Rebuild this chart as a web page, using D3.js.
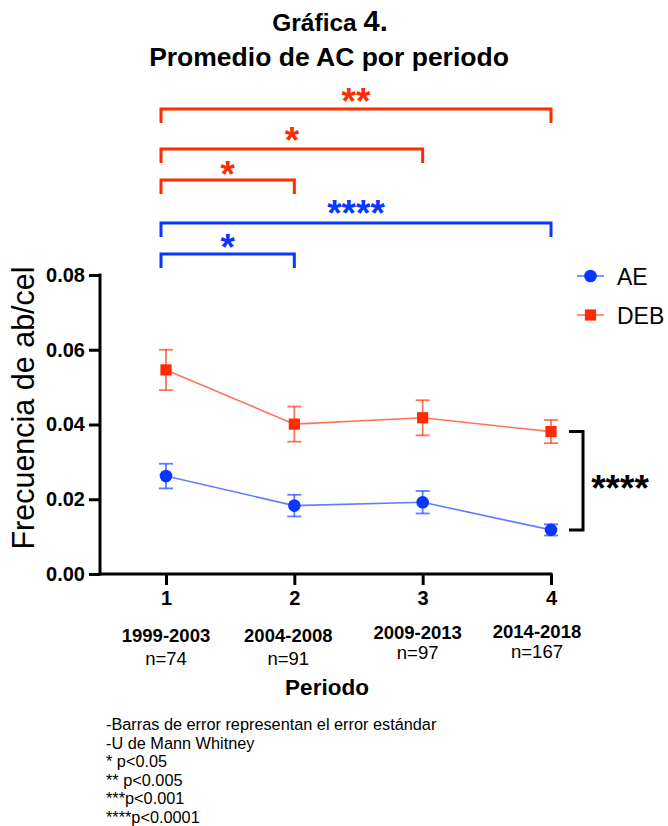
<!DOCTYPE html>
<html>
<head>
<meta charset="utf-8">
<script src="https://cdn.jsdelivr.net/npm/d3@7"></script>
<style>
  html, body { margin: 0; padding: 0; background: #fff; }
  svg text { font-family: "Liberation Sans", Arial, Helvetica, sans-serif; }
</style>
</head>
<body>
<svg id="chart" width="668" height="826"></svg>
<script>
// Periods on the x axis
const periods = [1, 2, 3, 4];
const periodRanges = ["1999-2003", "2004-2008", "2009-2013", "2014-2018"];
const periodN = ["n=74", "n=91", "n=97", "n=167"];

// Mean frequency of aberrations per cell, with standard error
const aeMean = [0.0262, 0.0183, 0.0192, 0.0118];
const aeSem  = [0.0033, 0.0029, 0.0030, 0.0015];
const debMean = [0.0546, 0.0401, 0.0418, 0.0381];
const debSem  = [0.0054, 0.0047, 0.0047, 0.0031];

// Axis ticks
const yTicks = [0.00, 0.02, 0.04, 0.06, 0.08];

// Pairwise comparisons between periods (Mann-Whitney U)
const comparisons = [
  { series: "DEB", from: 1, to: 4, label: "**" },
  { series: "DEB", from: 1, to: 3, label: "*" },
  { series: "DEB", from: 1, to: 2, label: "*" },
  { series: "AE",  from: 1, to: 4, label: "****" },
  { series: "AE",  from: 1, to: 2, label: "*" }
];
// AE vs DEB overall comparison
const groupComparison = { label: "****" };

const notes = [
  "-Barras de error representan el error estándar",
  "-U de Mann Whitney",
  "* p<0.05",
  "** p<0.005",
  "***p<0.001",
  "****p<0.0001"
];

const BLUE = "#0a37ff";
const RED = "#ff2a00";
const colorOf = { AE: BLUE, DEB: RED };

const svg = d3.select("#chart");

const x = d3.scaleLinear().domain([1, 4]).range([166, 551]);
const y = d3.scaleLinear().domain([0, 0.08]).range([574, 275]);
const axisX0 = 100;

// Title
const title = svg.append("text")
  .attr("x", 330).attr("y", 31)
  .attr("text-anchor", "middle")
  .attr("font-weight", "bold")
  .attr("fill", "#000");
title.append("tspan").attr("font-size", 24.5).text("Gráfica ");
title.append("tspan").attr("font-size", 29).text("4.");
svg.append("text")
  .attr("x", 329).attr("y", 66)
  .attr("text-anchor", "middle")
  .attr("font-weight", "bold")
  .attr("font-size", 26.5)
  .text("Promedio de AC por periodo");

// Y axis
const yAxis = d3.axisLeft(y)
  .tickValues(yTicks)
  .tickFormat(d3.format(".2f"))
  .tickSize(11)
  .tickPadding(4);
const gy = svg.append("g").attr("transform", `translate(${axisX0},0)`).call(yAxis);
gy.select(".domain").attr("stroke", "#000").attr("stroke-width", 3)
  .attr("d", `M0,${y(0.08) - 1.5}V${y(0) + 1.5}`);
gy.selectAll(".tick line").attr("stroke", "#000").attr("stroke-width", 3);
gy.selectAll(".tick text")
  .attr("font-size", 20).attr("font-weight", "bold").attr("fill", "#000")
  .attr("font-family", "'Liberation Sans', Arial, sans-serif");

// X axis line and ticks
const xAxis = d3.axisBottom(x).tickValues(periods).tickFormat(d3.format("d")).tickSize(11).tickPadding(6);
const gx = svg.append("g").attr("transform", `translate(0,${y(0)})`).call(xAxis);
gx.select(".domain").attr("stroke", "#000").attr("stroke-width", 3)
  .attr("d", `M${axisX0 - 1.5},0H${x(4) + 1.5}`);
gx.selectAll(".tick line").attr("stroke", "#000").attr("stroke-width", 3);
gx.selectAll(".tick text")
  .attr("font-size", 20).attr("font-weight", "bold").attr("fill", "#000")
  .attr("font-family", "'Liberation Sans', Arial, sans-serif");

// Period labels under the ticks
const rangeNudge = [0, -6, -5, -14];
const rangeRise = [0, 0, -3, -4];
const nRise = [0, 0, -6, -7];
svg.append("g").selectAll("text.range").data(periods).join("text")
  .attr("class", "range")
  .attr("x", (d, i) => x(d) + rangeNudge[i])
  .attr("y", (d, i) => 642 + rangeRise[i])
  .attr("text-anchor", "middle")
  .attr("font-size", 18.5).attr("font-weight", "bold")
  .text((d, i) => periodRanges[i]);
svg.append("g").selectAll("text.n").data(periods).join("text")
  .attr("class", "n")
  .attr("x", (d, i) => x(d) + rangeNudge[i])
  .attr("y", (d, i) => 665 + nRise[i])
  .attr("text-anchor", "middle")
  .attr("font-size", 18.5)
  .text((d, i) => periodN[i]);

svg.append("text")
  .attr("x", 327).attr("y", 695)
  .attr("text-anchor", "middle")
  .attr("font-size", 22.5).attr("font-weight", "bold")
  .text("Periodo");

// Y axis title
svg.append("text")
  .attr("transform", "translate(34,408) rotate(-90)")
  .attr("text-anchor", "middle")
  .attr("font-size", 30.5)
  .text("Frecuencia de ab/cel");

// Series
const series = [
  { name: "AE", mean: aeMean, sem: aeSem, shape: "circle" },
  { name: "DEB", mean: debMean, sem: debSem, shape: "square" }
];

const line = d3.line().x(d => x(d.p)).y(d => y(d.v));

series.forEach(s => {
  const c = colorOf[s.name];
  const pts = periods.map((p, i) => ({ p, v: s.mean[i], e: s.sem[i] }));
  const g = svg.append("g");
  g.append("path").datum(pts)
    .attr("d", line)
    .attr("fill", "none").attr("stroke", c).attr("stroke-opacity", 0.65).attr("stroke-width", 1.6);
  // error bars
  const eb = g.selectAll("g.eb").data(pts).join("g").attr("class", "eb")
    .attr("stroke", c).attr("stroke-opacity", 0.65).attr("stroke-width", 1.8);
  eb.append("line")
    .attr("x1", d => x(d.p)).attr("x2", d => x(d.p))
    .attr("y1", d => y(d.v + d.e)).attr("y2", d => y(d.v - d.e));
  [1, -1].forEach(sign => {
    eb.append("line")
      .attr("x1", d => x(d.p) - 7).attr("x2", d => x(d.p) + 7)
      .attr("y1", d => y(d.v + sign * d.e)).attr("y2", d => y(d.v + sign * d.e));
  });
  // markers
  if (s.shape === "circle") {
    g.selectAll("circle").data(pts).join("circle")
      .attr("cx", d => x(d.p)).attr("cy", d => y(d.v)).attr("r", 6.3).attr("fill", c);
  } else {
    g.selectAll("rect").data(pts).join("rect")
      .attr("x", d => x(d.p) - 5.6).attr("y", d => y(d.v) - 5.6)
      .attr("width", 11.2).attr("height", 11.2).attr("fill", c);
  }
});

// Legend
const legend = svg.append("g");
series.forEach((s, i) => {
  const c = colorOf[s.name];
  const ly = 276 + i * 39;
  legend.append("line").attr("x1", 577).attr("x2", 604).attr("y1", ly).attr("y2", ly)
    .attr("stroke", c).attr("stroke-opacity", 0.65).attr("stroke-width", 1.6);
  if (s.shape === "circle") {
    legend.append("circle").attr("cx", 590.5).attr("cy", ly).attr("r", 6.3).attr("fill", c);
  } else {
    legend.append("rect").attr("x", 590.5 - 5.6).attr("y", ly - 5.6).attr("width", 11.2).attr("height", 11.2).attr("fill", c);
  }
  legend.append("text").attr("x", 617).attr("y", ly + 8.5)
    .attr("font-size", 23).text(s.name);
});

// Significance brackets above the plot
const tierY = [109, 149, 180, 223, 254];
const labelY = [93, 132, 166, 205, 239];
const legLen = 14;
const starSize = 37;
comparisons.forEach((cmp, i) => {
  const c = colorOf[cmp.series];
  const x1 = x(cmp.from) - 5, x2 = x(cmp.to);
  const yy = tierY[i];
  svg.append("path")
    .attr("d", `M${x1},${yy + legLen}V${yy}H${x2}V${yy + legLen}`)
    .attr("fill", "none").attr("stroke", c).attr("stroke-width", 3);
  svg.append("text")
    .attr("x", (x1 + x2) / 2).attr("y", labelY[i] + 0.56 * starSize)
    .attr("text-anchor", "middle")
    .attr("font-size", starSize).attr("font-weight", "bold")
    .attr("fill", c)
    .text(cmp.label);
});

// AE vs DEB bracket at the last period
{
  const yTop = y(debMean[3]), yBot = y(aeMean[3]);
  const bx0 = 569, bx1 = 583;
  svg.append("path")
    .attr("d", `M${bx0},${yTop}H${bx1}V${yBot}H${bx0}`)
    .attr("fill", "none").attr("stroke", "#000").attr("stroke-width", 3);
  svg.append("text")
    .attr("x", 620).attr("y", (yTop + yBot) / 2 + 0.56 * starSize)
    .attr("text-anchor", "middle")
    .attr("font-size", starSize).attr("font-weight", "bold")
    .text(groupComparison.label);
}

// Footnotes
svg.append("g").selectAll("text").data(notes).join("text")
  .attr("x", 106)
  .attr("y", (d, i) => 730 + i * 18.6)
  .attr("font-size", 16.3)
  .text(d => d);
</script>
</body>
</html>
